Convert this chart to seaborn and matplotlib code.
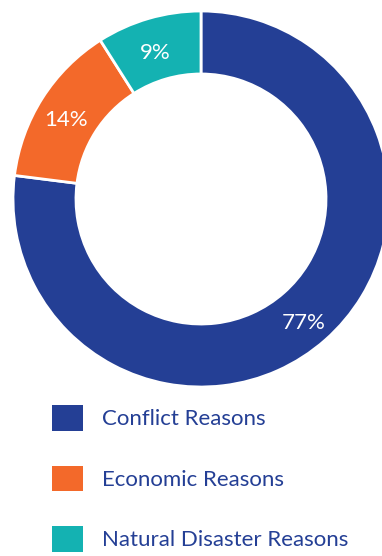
import matplotlib
matplotlib.use("Agg")
import matplotlib.pyplot as plt
import matplotlib.transforms as mtransforms
import seaborn as sns

categories = ["Conflict Reasons", "Economic Reasons", "Natural Disaster Reasons"]
shares = [77, 14, 9]
pct_labels = ["77%", "14%", "9%"]
colors = ["#243F95", "#F3692A", "#14B2B2"]

sns.set_theme(style="white")
plt.rcParams['font.family'] = ['Lato', 'DejaVu Sans']

W, H = 382, 556
fig = plt.figure(figsize=(W / 100, H / 100), dpi=100)
cx, cy, R = 201, 199, 188
ax = fig.add_axes([(cx - R) / W, (H - cy - R) / H, 2 * R / W, 2 * R / H])

wedges, texts = ax.pie(
    shares, colors=colors, startangle=90, counterclock=False, radius=1,
    wedgeprops=dict(width=0.335, edgecolor='white', linewidth=2),
    labels=pct_labels, labeldistance=0.84,
    textprops=dict(color='white', fontsize=16, ha='center', va='center'))
ax.set_xlim(-1, 1)
ax.set_ylim(-1, 1)
ax.set_aspect('equal')
ax.axis('off')
for w in wedges:
    w.set_clip_on(False)
shift = mtransforms.ScaledTranslation(-2 / 100, -6 / 100, fig.dpi_scale_trans)
for t in texts:
    t.set_transform(ax.transData + shift)

fs = 16
fspx = fs * 100 / 72
leg = fig.legend(wedges, categories, loc='upper left',
                 bbox_to_anchor=(52 / W, 1 - 405 / H), bbox_transform=fig.transFigure,
                 frameon=False, fontsize=fs, labelcolor="#243F95",
                 handlelength=31 / fspx, handleheight=31 / fspx,
                 handletextpad=19 / fspx, labelspacing=35 / fspx,
                 borderpad=0, borderaxespad=0)
for h in leg.legend_handles:
    h.set_linewidth(0)

fig.savefig("out.png", dpi=100)
